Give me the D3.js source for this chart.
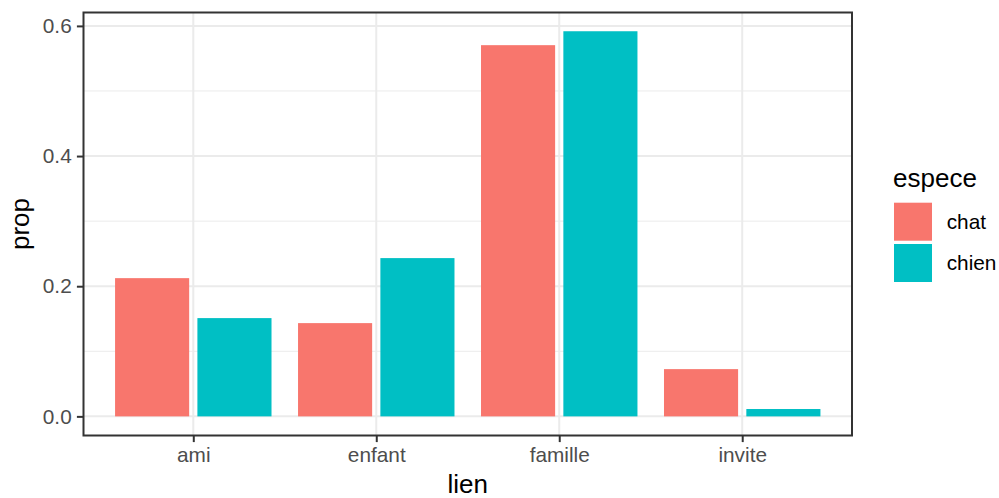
<!DOCTYPE html>
<html><head><meta charset="utf-8">
<script src="https://cdn.jsdelivr.net/npm/d3@7"></script>
<style>body{margin:0;background:#fff}svg{display:block;font-family:"Liberation Sans",Arial,sans-serif}</style>
</head><body><svg id="c" width="999" height="498"></svg>
<script>
const categories = ["ami","enfant","famille","invite"];
const series = ["chat","chien"];
const chat = [0.2124, 0.1433, 0.5704, 0.0726];
const chien = [0.1510, 0.2432, 0.5918, 0.0113];
const yTicks = [0.0, 0.2, 0.4, 0.6];
const yMinor = [0.1, 0.3, 0.5];
const colors = ["#F8766D","#00BFC4"];

const svg = d3.select("#c");
const L = 83.5, R = 852, T = 12.5, B = 435.5;
const step = (R - L) / (categories.length - 1 + 1.2);
const x = d3.scalePoint().domain(categories).range([L + 0.6*step, R - 0.6*step]);
const y = d3.scaleLinear().domain([-0.0294, 0.6206]).range([B, T]);

// grid
const g = svg.append("g");
g.selectAll(".mn").data(yMinor).join("line").attr("x1",L).attr("x2",R)
 .attr("y1",d=>y(d)).attr("y2",d=>y(d)).attr("stroke","#EBEBEB").attr("stroke-width",1);
g.selectAll(".mj").data(yTicks).join("line").attr("x1",L).attr("x2",R)
 .attr("y1",d=>y(d)).attr("y2",d=>y(d)).attr("stroke","#EBEBEB").attr("stroke-width",2);
g.selectAll(".mx").data(categories).join("line").attr("y1",T).attr("y2",B)
 .attr("x1",d=>x(d)).attr("x2",d=>x(d)).attr("stroke","#EBEBEB").attr("stroke-width",2);

// bars
const data = [];
categories.forEach((c,i)=>{ data.push({c, s:0, v:chat[i]}); data.push({c, s:1, v:chien[i]}); });
const off = 0.225*step, bw = 0.405*step;
svg.append("g").selectAll("rect").data(data).join("rect")
 .attr("x", d=> x(d.c) + (d.s===0?-off:off) - bw/2)
 .attr("width", bw)
 .attr("y", d=> y(d.v)).attr("height", d=> y(0)-y(d.v))
 .attr("fill", d=> colors[d.s]);

// border
svg.append("rect").attr("x",L).attr("y",T).attr("width",R-L).attr("height",B-T)
 .attr("fill","none").attr("stroke","#333333").attr("stroke-width",2);

// axes
const ya = svg.append("g").attr("transform",`translate(${L},0)`)
 .call(d3.axisLeft(y).tickValues(yTicks).tickFormat(d3.format(".1f")).tickSize(6.6).tickPadding(5.2));
const xa = svg.append("g").attr("transform",`translate(0,${B})`)
 .call(d3.axisBottom(x).tickSize(6.6).tickPadding(5.2));
[ya,xa].forEach(a=>{
  a.select(".domain").remove();
  a.attr("font-size",null).attr("font-family",null);
  a.selectAll(".tick line").attr("stroke","#333333").attr("stroke-width",2);
  a.selectAll(".tick text").attr("fill","#4D4D4D").style("font-size","20.8px");
});

// titles
svg.append("text").attr("x",(L+R)/2).attr("y",493).attr("text-anchor","middle")
 .style("font-size","26px").attr("fill","#000").text("lien");
svg.append("text").attr("transform",`translate(28.5,${(T+B)/2}) rotate(-90)`).attr("text-anchor","middle")
 .style("font-size","26px").attr("fill","#000").text("prop");

// legend
svg.append("text").attr("x",893).attr("y",186.5).style("font-size","26px").attr("fill","#000").text("espece");
const lg = svg.append("g").selectAll("g").data(series).join("g")
 .attr("transform",(d,i)=>`translate(894,${202.7 + i*41.3})`);
lg.append("rect").attr("width",38).attr("height",38).attr("fill",(d,i)=>colors[i]);
lg.append("text").attr("x",52.7).attr("y",19).attr("dy","0.35em").style("font-size","20.8px").attr("fill","#000").text(d=>d);
</script></body></html>
